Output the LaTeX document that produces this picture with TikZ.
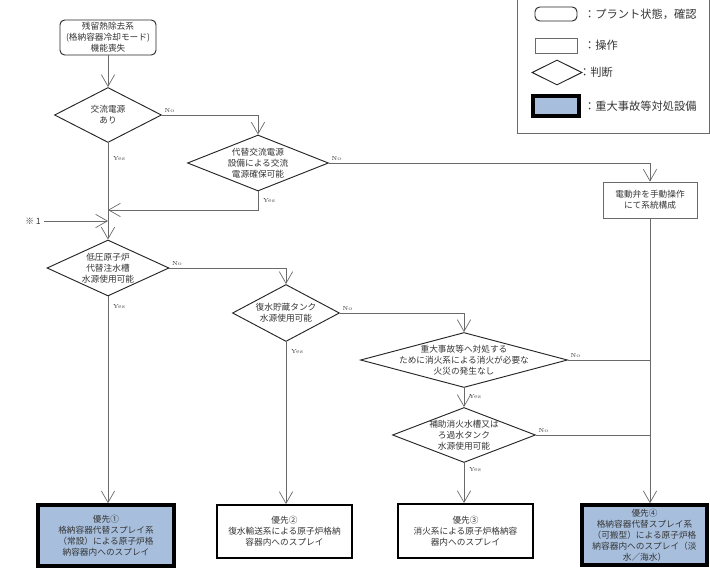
\documentclass[tikz,border=0pt]{standalone}
\usepackage{fontspec}
\usepackage{xcolor}
\usepackage{tikz}
\usetikzlibrary{arrows.meta, shapes.geometric}
\newfontfamily\jp{Noto Sans CJK JP}
\newcommand{\flowfont}{\jp\fontsize{7.4}{9.4}\selectfont}
\newcommand{\legfont}{\jp\fontsize{9.6}{11}\selectfont}
\definecolor{linegray}{HTML}{6A6A6A}
\definecolor{edgedark}{HTML}{262626}
\definecolor{txtgray}{HTML}{353535}
\definecolor{safill}{HTML}{A7BFDD}
\tikzset{
  statusbox/.style={
    draw=edgedark, line width=0.8pt, rounded corners=4pt,
    fill=white, align=center, font=\flowfont, text=txtgray,
    inner sep=1pt
  },
  opbox/.style={
    draw=linegray, line width=0.7pt, fill=white,
    align=center, font=\flowfont, text=txtgray, inner sep=1pt
  },
  endbox/.style={
    draw=black, line width=1.6pt, fill=white,
    align=center, font=\flowfont, text=txtgray, inner sep=1pt
  },
  sabox/.style={
    draw=black, line width=3pt, fill=safill,
    align=center, font=\flowfont, text=txtgray, inner sep=1pt
  },
  decision/.style={
    diamond, draw=edgedark, line width=0.8pt, fill=white, inner sep=0pt
  },
  dtext/.style={align=center, font=\flowfont, text=txtgray, inner sep=0pt},
  flow/.style={
    -{Straight Barb[length=3.5mm, width=4mm]},
    draw=linegray, line width=0.6pt
  },
  link/.style={draw=linegray, line width=0.6pt},
  yn/.style={font=\fontsize{5}{6}\selectfont, text=txtgray, inner sep=1pt},
  legtext/.style={font=\legfont, text=txtgray, inner sep=0pt, anchor=west}
}
\begin{document}
\begin{tikzpicture}[x=0.03cm, y=-0.03cm]
  \useasboundingbox (0,0) rectangle (710,567);

  % Legend
  \draw[draw=linegray, line width=0.7pt] (517,0) -- (517,133) -- (709,133) -- (709,0);
  \node[statusbox, minimum width=1.26cm, minimum height=0.42cm] (lg1) at (556,14) {};
  \node[legtext] (lg1t) at (584,14) {：プラント状態，確認};
  \node[opbox, minimum width=1.26cm, minimum height=0.45cm] (lg2) at (556,45.5) {};
  \node[legtext] (lg2t) at (584,45.5) {：操作};
  \node[decision, minimum width=1.5cm, minimum height=0.75cm] (lg3) at (557,72.5) {};
  \node[legtext] (lg3t) at (579,72.5) {：判断};
  \node[sabox, minimum width=1.38cm, minimum height=0.6cm] (lg4) at (556,106) {};
  \node[legtext] (lg4t) at (584,106) {：重大事故等対処設備};

  % Flow nodes
  \node[statusbox, minimum width=2.88cm, minimum height=1.05cm] (start) at (108,37.5)
    {残留熱除去系\\(格納容器冷却モード)\\機能喪失};
  \node[decision, minimum width=3.21cm, minimum height=1.65cm,
    label={[dtext]center:交流電源\\あり}] (d1) at (108,115) {};
  \node[decision, minimum width=4.23cm, minimum height=1.68cm,
    label={[dtext]center:代替交流電源\\設備による交流\\電源確保可能}] (d2) at (258,163) {};
  \node[opbox, minimum width=2.82cm, minimum height=1.08cm] (op) at (650,200)
    {電動弁を手動操作\\にて系統構成};
  \node[font=\flowfont, text=txtgray, inner sep=3pt] (note1) at (33,221) {※ 1};
  \coordinate (j1) at (108,210);
  \coordinate (j2) at (108,221);
  \node[decision, minimum width=3.66cm, minimum height=1.68cm,
    label={[dtext]center:低圧原子炉\\代替注水槽\\水源使用可能}] (d3) at (108,268) {};
  \node[decision, minimum width=3.21cm, minimum height=1.71cm,
    label={[dtext]center:復水貯蔵タンク\\水源使用可能}] (d4) at (286,313) {};
  \node[decision, minimum width=6.21cm, minimum height=1.65cm,
    label={[dtext]center:重大事故等へ対処する\\ために消火系による消火が必要な\\火災の発生なし}] (d5) at (464,360) {};
  \node[decision, minimum width=4.29cm, minimum height=1.65cm,
    label={[dtext]center:補助消火水槽又は\\ろ過水タンク\\水源使用可能}] (d6) at (464,435) {};

  % Results
  \node[sabox, minimum width=4.08cm, minimum height=1.83cm] (b1) at (106,535.5)
    {優先①\\格納容器代替スプレイ系\\（常設）による原子炉格\\納容器内へのスプレイ};
  \node[endbox, minimum width=4.05cm, minimum height=1.59cm] (b2) at (284.5,531.5)
    {優先②\\復水輸送系による原子炉格納\\容器内へのスプレイ};
  \node[endbox, minimum width=4.05cm, minimum height=1.62cm] (b3) at (465.5,531)
    {優先③\\消火系による原子炉格納容\\器内へのスプレイ};
  \node[sabox, minimum width=3.75cm, minimum height=1.8cm] (b4) at (644.5,535)
    {優先④\\格納容器代替スプレイ系\\（可搬型）による原子炉格\\納容器内へのスプレイ（淡\\水／海水）};

  % Connectors
  \draw[flow] (start) -- (d1);
  \draw[flow] (d1.east) -| (d2.north) node[yn, pos=0, above right=1pt] {No};
  \draw[flow] (d2.east) -| (op.north) node[yn, pos=0, above right=1pt] {No};
  \draw[flow] (d2.south) |- (j1) node[yn, pos=0.24, right=3pt] {Yes};
  \draw[flow] (note1.east) -- (j2);
  \draw[flow] (d1.south) -- (d3.north) node[yn, pos=0.16, right=3pt] {Yes};
  \draw[flow] (d3.east) -| (d4.north) node[yn, pos=0, above right=1pt] {No};
  \draw[flow] (d3.south) -- (d3.south |- b1.north) node[yn, pos=0.05, right=3pt] {Yes};
  \draw[flow] (d4.east) -| (d5.north) node[yn, pos=0, above right=1pt] {No};
  \draw[flow] (d4.south) -- (d4.south |- b2.north) node[yn, pos=0.06, right=3pt] {Yes};
  \draw[flow] (d5.south) -- (d6.north) node[yn, pos=0.45, right=3pt] {Yes};
  \draw[flow] (d6.south) -- (d6.south |- b3.north) node[yn, pos=0.17, right=3pt] {Yes};
  \draw[link] (d5.east) -- (d5.east -| op.south) node[yn, pos=0, above right=1pt] {No};
  \draw[link] (d6.east) -- (d6.east -| op.south) node[yn, pos=0, above right=1pt] {No};
  \draw[flow] (op.south) -- (op.south |- b4.north);
\end{tikzpicture}
\end{document}
